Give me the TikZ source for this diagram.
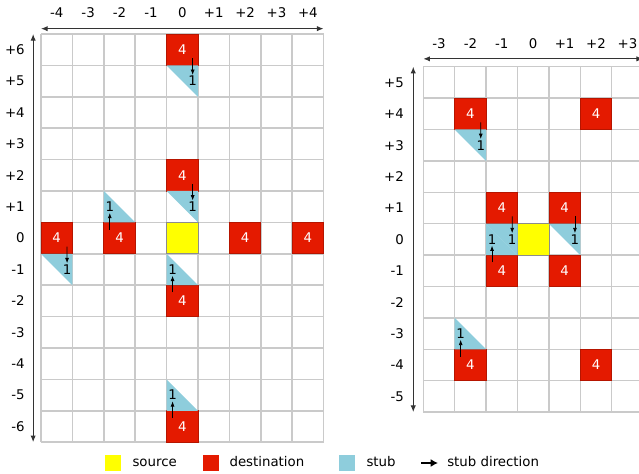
\documentclass[tikz,border=0pt]{standalone}
\usepackage{fontspec}
\setmainfont{DejaVu Sans}
\usetikzlibrary{arrows.meta,positioning,calc}
\definecolor{srcyellow}{HTML}{FFFF00}
\definecolor{destred}{HTML}{E41A00}
\definecolor{stubblue}{HTML}{8ECDDC}
\definecolor{gridgray}{HTML}{CACACA}
\definecolor{axisdark}{HTML}{333333}

\begin{document}
\begin{tikzpicture}[x=0.75pt, y=0.75pt,
    lbl/.style={font=\fontsize{10}{12}\selectfont, inner sep=0pt},
    keytext/.style={lbl, text height=7.5pt, text depth=2pt},
    cellbox/.style={minimum size=23.55pt, inner sep=0pt, outer sep=0pt},
    destbox/.style={cellbox, fill=destred, draw=destred!80!black, line width=0.5pt, lbl, text=white},
    srcbox/.style={cellbox, fill=srcyellow, draw=black!45, line width=0.5pt},
    gridl/.style={draw=gridgray, line width=1.1pt},
    axisline/.style={draw=axisdark, line width=0.8pt, {Latex[length=5pt,width=4pt]}-{Latex[length=5pt,width=4pt]}},
    stubarrow/.style={draw=black, line width=0.6pt, -{Latex[length=4pt,width=3pt]}},
    keysq/.style={minimum size=12pt, inner sep=0pt}
  ]
  \useasboundingbox (0,0) rectangle (639,-474);

  \begin{scope}[shift={(182.3,-238.1)}, x=23.55pt, y=23.55pt]
    \foreach \c in {-4.5,-3.5,...,4.5} \draw[gridl] (\c,-6.5) -- (\c,6.5);
    \foreach \r in {-6.5,-5.5,...,6.5} \draw[gridl] (-4.5,\r) -- (4.5,\r);
    \foreach \c in {-4,...,4} \node[lbl] (Lx\c) at (\c,7.18) {\ifnum\c>0 +\fi\c};
    \foreach \r in {-6,...,6} \node[lbl, anchor=east] (Ly\r) at (-5.01,\r) {\ifnum\r>0 +\fi\r};
    \coordinate (Lh0) at (-4.5,6.67);
    \coordinate (Lh1) at (4.5,6.67);
    \coordinate (Lv0) at (-4.75,-6.5);
    \coordinate (Lv1) at (-4.75,6.5);
    \draw[axisline] (Lh0) -- (Lh1);
    \draw[axisline] (Lv0) -- (Lv1);

    \node[srcbox] (Lsrc) at (0,0) {};
    \foreach \c/\r in {0/6,0/2,-4/0,-2/0,2/0,4/0,0/-2,0/-6}
      \node[destbox] (L\c_\r) at (\c,\r) {4};
    \foreach \c/\r in {0/6,0/2,-4/0} {
      \fill[stubblue] (\c-0.5,\r-0.5) -- (\c+0.5,\r-0.5) -- (\c+0.5,\r-1.5) -- cycle;
      \node[lbl] (Lsd\c_\r) at (\c+0.33,\r-1) {1};
      \draw[stubarrow] ($(L\c_\r.center)+(0.33,-0.27)$) -- ([yshift=0.8pt]Lsd\c_\r.north);
    }
    \foreach \c/\r in {-2/0,0/-2,0/-6} {
      \fill[stubblue] (\c-0.5,\r+1.5) -- (\c-0.5,\r+0.5) -- (\c+0.5,\r+0.5) -- cycle;
      \node[lbl] (Lsu\c_\r) at (\c-0.31,\r+1) {1};
      \draw[stubarrow] ($(L\c_\r.center)+(-0.31,0.27)$) -- ([yshift=-0.8pt]Lsu\c_\r.south);
    }
  \end{scope}

  \begin{scope}[shift={(533.2,-239.4)}, x=23.55pt, y=23.55pt]
    \foreach \c in {-3.5,-2.5,...,3.5} \draw[gridl] (\c,-5.5) -- (\c,5.5);
    \foreach \r in {-5.5,-4.5,...,5.5} \draw[gridl] (-3.5,\r) -- (3.5,\r);
    \foreach \c in {-3,...,3} \node[lbl] (Rx\c) at (\c,6.25) {\ifnum\c>0 +\fi\c};
    \foreach \r in {-5,...,5} \node[lbl, anchor=east] (Ry\r) at (-4.11,\r) {\ifnum\r>0 +\fi\r};
    \coordinate (Rh0) at (-3.5,5.75);
    \coordinate (Rh1) at (3.5,5.75);
    \coordinate (Rv0) at (-3.82,-5.5);
    \coordinate (Rv1) at (-3.82,5.5);
    \draw[axisline] (Rh0) -- (Rh1);
    \draw[axisline] (Rv0) -- (Rv1);

    \node[srcbox] (Rsrc) at (0,0) {};
    \foreach \c/\r in {-2/4,2/4,-1/1,1/1,-1/-1,1/-1,-2/-4,2/-4}
      \node[destbox] (R\c_\r) at (\c,\r) {4};
    \foreach \c/\r in {-2/4,-1/1,1/1} {
      \fill[stubblue] (\c-0.5,\r-0.5) -- (\c+0.5,\r-0.5) -- (\c+0.5,\r-1.5) -- cycle;
      \node[lbl] (Rsd\c_\r) at (\c+0.33,\r-1) {1};
      \draw[stubarrow] ($(R\c_\r.center)+(0.33,-0.27)$) -- ([yshift=0.8pt]Rsd\c_\r.north);
    }
    \foreach \c/\r in {-1/-1,-2/-4} {
      \fill[stubblue] (\c-0.5,\r+1.5) -- (\c-0.5,\r+0.5) -- (\c+0.5,\r+0.5) -- cycle;
      \node[lbl] (Rsu\c_\r) at (\c-0.31,\r+1) {1};
      \draw[stubarrow] ($(R\c_\r.center)+(-0.31,0.27)$) -- ([yshift=-0.8pt]Rsu\c_\r.south);
    }
  \end{scope}

  \node[keysq, fill=srcyellow] (ksrc) at (113,-463) {};
  \node[keytext, right=8.25pt of ksrc] (ksrct) {source};
  \node[keysq, fill=destred] (kdest) at (211,-463) {};
  \node[keytext, right=7.5pt of kdest] (kdestt) {destination};
  \node[keysq, fill=stubblue] (kstub) at (347,-463) {};
  \node[keytext, right=8.25pt of kstub] (kstubt) {stub};
  \coordinate (kdir0) at (421,-463);
  \coordinate (kdir1) at (438,-463);
  \draw[line width=1.8pt, -{Latex[length=5.5pt,width=6pt]}] (kdir0) -- (kdir1);
  \node[keytext, right=6.75pt of kdir1] (kdirt) {stub direction};
\end{tikzpicture}
\end{document}
